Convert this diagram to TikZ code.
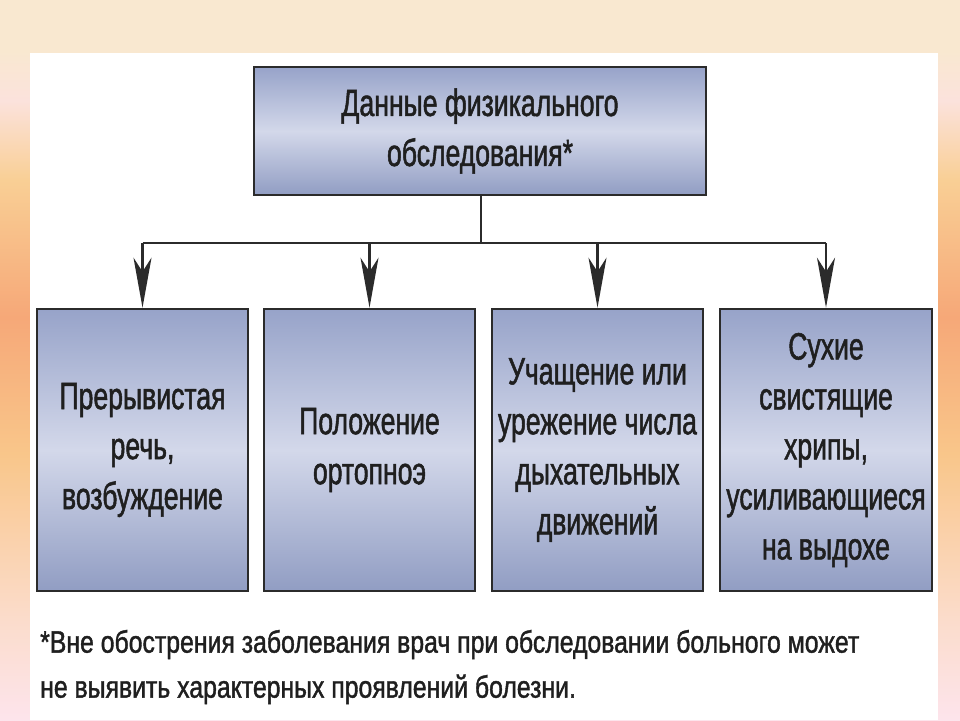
\documentclass[tikz,border=0pt]{standalone}
\usepackage{fontspec}
\setmainfont{Liberation Sans}[FakeStretch=0.7,FakeBold=1.3]
\newfontfamily\notefont{Liberation Sans}[FakeStretch=0.8,FakeBold=1.3]
\usetikzlibrary{arrows.meta}
\definecolor{edgec}{HTML}{2B2B2B}
\definecolor{bgA}{HTML}{FDE4EC}
\definecolor{bgB}{HTML}{FBDCCB}
\definecolor{bgC}{HTML}{F9C68A}
\definecolor{bgD}{HTML}{F6A878}
\definecolor{bgE}{HTML}{F9CF95}
\definecolor{bgF}{HTML}{FBE2DC}
\definecolor{bgG}{HTML}{F9E8D0}
\definecolor{bxA}{HTML}{919DC3}
\definecolor{bxB}{HTML}{D3D8EA}
\definecolor{bxC}{HTML}{97A3C9}
\pgfdeclareverticalshading{bgshade}{100bp}{color(0bp)=(bgA); color(25bp)=(bgA); color(32bp)=(bgB); color(43.5bp)=(bgC); color(53bp)=(bgD); color(62.5bp)=(bgE); color(68bp)=(bgF); color(71.5bp)=(bgG); color(75bp)=(bgG); color(100bp)=(bgG)}
\pgfdeclareverticalshading{boxshade}{100bp}{color(0bp)=(bxA); color(25bp)=(bxA); color(50bp)=(bxB); color(75bp)=(bxC); color(100bp)=(bxC)}
\tikzset{
  panel/.style={draw=edgec, line width=2.6pt, shading=boxshade, inner sep=0pt, align=center,
    font=\fontsize{38}{50}\selectfont, text=black!88},
  link/.style={draw=edgec, line width=2.4pt},
  arr/.style={link, -{Stealth[length=50pt,width=18pt,inset=14pt]}},
}
\begin{document}
\begin{tikzpicture}[x=1pt,y=-1pt]
\useasboundingbox (0,0) rectangle (960,720);
\shade[shading=bgshade] (0,0) rectangle (960,720);
\fill[white] (30,53) rectangle (938,720);
\node[panel, minimum width=452pt, minimum height=128pt] (top) at (480,131)
  {Данные физикального\\обследования*};
\node[panel, minimum width=211pt, minimum height=282pt] (b1) at (142.5,450)
  {Прерывистая\\речь,\\возбуждение};
\node[panel, minimum width=211pt, minimum height=282pt] (b2) at (369.5,450)
  {Положение\\ортопноэ};
\node[panel, minimum width=211pt, minimum height=282pt] (b3) at (597.5,450)
  {Учащение или\\урежение числа\\дыхательных\\движений};
\node[panel, minimum width=212pt, minimum height=282pt] (b4) at (826,450)
  {Сухие\\свистящие\\хрипы,\\усиливающиеся\\на выдохе};
\coordinate (hub) at (481,243);
\draw[link] (top.south -| hub) -- (hub);
\draw[link] (b1.north |- hub) -- (b4.north |- hub);
\draw[arr] (b1.north |- hub) -- (b1.north);
\draw[arr] (b2.north |- hub) -- (b2.north);
\draw[arr] (b3.north |- hub) -- (b3.north);
\draw[arr] (b4.north |- hub) -- (b4.north);
\node[anchor=west, align=left, inner sep=0pt, font=\notefont\fontsize{31}{45}\selectfont, text=black!88] (note) at (40,667)
  {*Вне обострения заболевания врач при обследовании больного может\\не выявить характерных проявлений болезни.};
\end{tikzpicture}
\end{document}
